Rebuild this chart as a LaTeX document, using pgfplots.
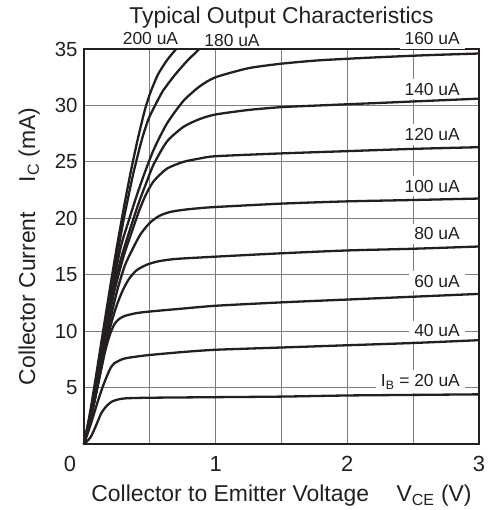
\documentclass[border=0pt]{standalone}
\usepackage{pgfplots}
\pgfplotsset{compat=1.18}
\usepackage{fontspec}
\setmainfont{Liberation Sans}
\definecolor{ink}{RGB}{35,31,32}
\definecolor{gridgray}{RGB}{125,125,125}
\begin{document}
\begin{tikzpicture}
\useasboundingbox (-84bp,-66bp) rectangle (407bp,444bp);
\begin{axis}[
  at={(0,0)}, anchor=south west,
  scale only axis, width=395bp, height=395bp,
  xmin=0, xmax=3, ymin=0, ymax=35,
  clip=false,
  xtick={0,1,2,3},
  xticklabels={0\hspace*{28bp},1,2,3},
  minor xtick={0.5,1.5,2.5},
  ytick={5,10,15,20,25,30,35},
  grid=both,
  major grid style={gridgray, line width=1.1bp},
  minor grid style={gridgray, line width=1.1bp},
  major tick length=0pt, minor tick length=0pt,
  axis line style={ink, line width=1.3bp},
  /pgf/number format/assume math mode=true,
  xticklabel style={font=\fontsize{22}{25}\selectfont, text=ink, yshift=-9bp},
  yticklabel style={font=\fontsize{20.5}{24}\selectfont, text=ink, xshift=-3bp},
  title={Typical Output Characteristics},
  title style={font=\fontsize{23}{26}\selectfont, text=ink, yshift=11bp},
  xlabel={Collector to Emitter Voltage\hspace{1.2em}V\textsubscript{CE} (V)},
  ylabel={Collector Current\hspace{1.3em}I\textsubscript{C} (mA)},
  xlabel style={font=\fontsize{23}{26}\selectfont, text=ink, yshift=-6.5bp},
  ylabel style={font=\fontsize{23}{26}\selectfont, text=ink, yshift=8bp},
  every axis plot post/.append style={ink, solid, line width=2.3bp, smooth, tension=0.4, mark=none},
]
% curve labels
\begin{scope}[every node/.style={font=\fontsize{17.5}{20}\selectfont, text=ink, fill=white, inner xsep=5bp, inner ysep=4bp, anchor=base east}]
\node at (axis cs:2.894,35.4) {160 uA};
\node at (axis cs:2.894,30.9) {140 uA};
\node at (axis cs:2.894,26.9) {120 uA};
\node at (axis cs:2.894,22.3) {100 uA};
\node at (axis cs:2.894,18.1) {80 uA};
\node at (axis cs:2.894,13.9) {60 uA};
\node at (axis cs:2.894,9.5) {40 uA};
\node at (axis cs:2.894,5.1) {I\textsubscript{B} = 20 uA};
\end{scope}
\node[font=\fontsize{17.5}{20}\selectfont, text=ink, anchor=base] at (axis cs:0.505,35.4) {200 uA};
\node[font=\fontsize{17.5}{20}\selectfont, text=ink, anchor=base] at (axis cs:1.124,35.2) {180 uA};
% 20 uA
\addplot coordinates {(0,0)(0.05,0.6)(0.09,1.6)(0.13,2.7)(0.17,3.35)(0.21,3.75)(0.26,3.95)(0.32,4.05)(0.5,4.1)(1,4.15)(1.5,4.2)(2,4.3)(2.5,4.35)(3,4.4)};
% 40 uA
\addplot coordinates {(0,0)(0.05,1.7)(0.1,3.6)(0.14,5.0)(0.17,5.9)(0.2,6.7)(0.23,7.15)(0.3,7.55)(0.4,7.75)(0.51,7.9)(0.75,8.15)(1,8.35)(1.5,8.55)(2,8.75)(2.5,8.95)(3,9.2)};
% 60 uA
\addplot coordinates {(0,0)(0.05,2.2)(0.1,4.9)(0.16,8.2)(0.2,9.8)(0.235,10.7)(0.27,11.1)(0.31,11.35)(0.4,11.6)(0.51,11.75)(0.75,12.0)(1,12.25)(1.5,12.55)(2,12.8)(2.5,13.05)(3,13.3)};
% 80 uA
\addplot coordinates {(0,0)(0.05,2.3)(0.1,5)(0.18,9.5)(0.24,12.0)(0.29,13.5)(0.34,14.6)(0.4,15.4)(0.48,15.9)(0.57,16.2)(0.7,16.4)(1,16.6)(1.5,16.9)(2,17.15)(2.5,17.3)(3,17.5)};
% 100 uA
\addplot coordinates {(0,0)(0.05,2.3)(0.1,5)(0.18,10)(0.25,13.5)(0.31,15.8)(0.37,17.3)(0.43,18.6)(0.5,19.6)(0.57,20.2)(0.65,20.55)(0.755,20.75)(0.88,20.9)(1,21.0)(1.5,21.3)(2,21.5)(2.5,21.62)(3,21.75)};
% 120 uA
\addplot coordinates {(0,0)(0.05,2.3)(0.1,5)(0.17,10)(0.23,13.5)(0.3,16.6)(0.36,18.7)(0.42,20.7)(0.47,22.1)(0.53,23.3)(0.63,24.4)(0.755,25.0)(0.88,25.3)(1.0,25.5)(1.5,25.75)(2,25.95)(2.5,26.15)(3,26.3)};
% 140 uA
\addplot coordinates {(0,0)(0.045,2.2)(0.095,5)(0.165,10)(0.225,13.8)(0.29,16.8)(0.36,19.4)(0.42,21.5)(0.475,23.2)(0.53,24.8)(0.63,26.8)(0.755,28.1)(0.88,28.8)(1.0,29.2)(1.25,29.6)(1.5,29.85)(1.79,30.0)(2.2,30.2)(2.6,30.4)(3,30.6)};
% 160 uA
\addplot coordinates {(0,0)(0.045,2.3)(0.09,5)(0.16,10)(0.22,14)(0.28,17.5)(0.34,19.8)(0.40,22.0)(0.46,24.0)(0.53,26.1)(0.63,28.4)(0.755,30.4)(0.88,31.7)(1.0,32.5)(1.25,33.3)(1.5,33.7)(1.79,34.0)(2.2,34.25)(2.6,34.45)(3,34.6)};
% 180 uA
\addplot coordinates {(0,0)(0.04,2.3)(0.085,5)(0.15,9.9)(0.205,13.8)(0.26,17.3)(0.31,20.4)(0.375,24)(0.44,27)(0.49,28.8)(0.54,30)(0.6,31.3)(0.69,32.7)(0.78,33.9)(0.876,35.0)};
% 200 uA
\addplot coordinates {(0,0)(0.04,2.4)(0.08,5.2)(0.145,10)(0.2,14)(0.25,17.5)(0.31,21.4)(0.36,24.4)(0.41,27.1)(0.46,29.5)(0.5,31.0)(0.56,32.7)(0.63,34.0)(0.70,35.0)};
\end{axis}
\end{tikzpicture}
\end{document}
